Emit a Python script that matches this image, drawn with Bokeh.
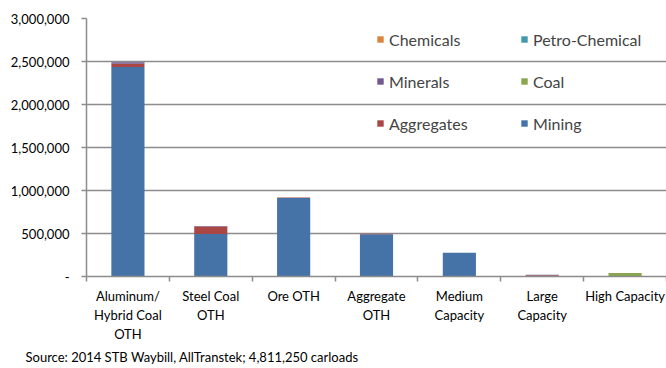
from bokeh.plotting import figure
from bokeh.models import (ColumnDataSource, FixedTicker, NumeralTickFormatter,
                          Legend, LegendItem, Title, Range1d)
from bokeh.embed import file_html
from bokeh.resources import INLINE

categories = ["Aluminum/\nHybrid Coal\nOTH", "Steel Coal\nOTH", "Ore OTH",
              "Aggregate\nOTH", "Medium\nCapacity", "Large\nCapacity", "High Capacity"]
mining = [2435000, 495000, 912000, 490000, 275000, 0, 0]
aggregates = [38000, 85000, 8000, 6000, 0, 15000, 0]
coal = [0, 0, 0, 0, 0, 0, 40000]
minerals = [18000, 8000, 0, 0, 0, 5000, 0]
petro_chemical = [0, 0, 0, 0, 0, 0, 0]
chemicals = [0, 0, 0, 0, 0, 0, 0]
y_ticks = [0, 500000, 1000000, 1500000, 2000000, 2500000, 3000000]

series = ["Mining", "Aggregates", "Coal", "Minerals", "Petro-Chemical", "Chemicals"]
colors = ["#4572A7", "#AA4643", "#89A54E", "#71588F", "#4198AF", "#DB843D"]
legend_order = ["Chemicals", "Petro-Chemical", "Minerals", "Coal", "Aggregates", "Mining"]
source_note = "Source: 2014 STB Waybill, AllTranstek; 4,811,250 carloads"

n = len(categories)
xs = [i + 0.5 for i in range(n)]
source = ColumnDataSource(dict(x=xs, Mining=mining, Aggregates=aggregates, Coal=coal,
                               Minerals=minerals, **{"Petro-Chemical": petro_chemical},
                               Chemicals=chemicals))

FONT = "Lato"
GRID = "#8c8c8c"

p = figure(width=666, height=368, output_backend="svg", toolbar_location=None,
           x_range=Range1d(0, n), y_range=Range1d(0, 3000000),
           min_border_left=86, min_border_right=0, min_border_top=18, min_border_bottom=92)
p.outline_line_color = None
p.background_fill_color = "white"
p.border_fill_color = "white"

renderers = p.vbar_stack(series, x="x", width=0.4, color=colors, source=source,
                         line_color=None)

# y axis
p.yaxis.ticker = FixedTicker(ticks=y_ticks)
p.yaxis.formatter = NumeralTickFormatter(format="0,0")
p.yaxis.major_label_overrides = {0: "-"}
p.yaxis.axis_line_color = GRID
p.yaxis.axis_line_width = 1.5
p.yaxis.major_tick_line_color = GRID
p.yaxis.major_tick_line_width = 1.5
p.yaxis.major_tick_out = 5
p.yaxis.major_tick_in = 0
p.yaxis.minor_tick_line_color = None
p.yaxis.major_label_standoff = 12
p.yaxis.major_label_text_font = FONT
p.yaxis.major_label_text_font_size = "13px"
p.yaxis.major_label_text_color = "black"

# x axis: labels at centres, ticks at boundaries
p.xaxis.ticker = FixedTicker(ticks=xs, minor_ticks=[i for i in range(n + 1)])
p.xaxis.major_label_overrides = {x: c for x, c in zip(xs, categories)}
p.xaxis.axis_line_color = GRID
p.xaxis.axis_line_width = 1.5
p.xaxis.major_tick_line_color = None
p.xaxis.minor_tick_line_color = GRID
p.xaxis.minor_tick_line_width = 1.5
p.xaxis.minor_tick_out = 5
p.xaxis.minor_tick_in = 0
p.xaxis.major_label_standoff = 5
p.xaxis.major_label_text_font = FONT
p.xaxis.major_label_text_font_size = "13px"
p.xaxis.major_label_text_color = "black"
p.xaxis.major_label_text_line_height = 1.2

p.xgrid.grid_line_color = None
p.ygrid.ticker = FixedTicker(ticks=y_ticks)
p.ygrid.grid_line_color = GRID
p.ygrid.grid_line_width = 1.5

items = [LegendItem(label=name, renderers=[renderers[series.index(name)]])
         for name in legend_order]
legend = Legend(items=items, ncols=2, orientation="horizontal", location=(290, 137),
                glyph_width=8, glyph_height=8, label_width=121, label_height=32,
                spacing=10, padding=0, margin=0, label_standoff=5,
                label_text_font=FONT, label_text_font_size="16px",
                background_fill_alpha=0, border_line_color=None)
p.add_layout(legend, "center")

p.add_layout(Title(text=source_note, align="left", offset=-61, standoff=4,
                   text_font=FONT, text_font_size="13px", text_font_style="normal",
                   text_color="black"), "below")

open("out.html", "w").write(file_html(p, INLINE))
